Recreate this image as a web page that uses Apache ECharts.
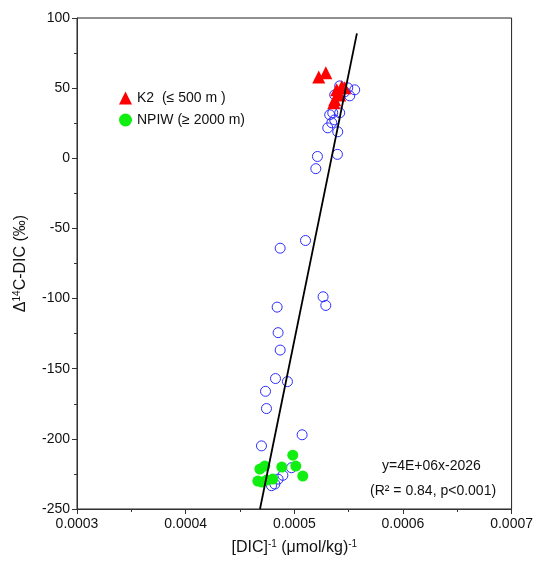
<!DOCTYPE html>
<html>
  <head>
    <meta charset="utf-8" />
    <title>D14C-DIC vs 1/DIC</title>
    <script src="https://cdn.jsdelivr.net/npm/echarts@6/dist/echarts.min.js"></script>
    <style>
      body { margin: 0; background: #fff; }
      #chart { width: 536px; height: 561px; }
    </style>
  </head>
<body>
  <div id="chart"></div>
  <script type="text/javascript">
// blue open circles: all samples  [1/DIC, D14C]
var allSamples = [
  [0.0005418, 51.6], [0.0005492, 50.2], [0.0005556, 48.8], [0.0005510, 44.5],
  [0.0005464, 47.4], [0.0005372, 45.2], [0.0005354, 32.4], [0.0005418, 32.4],
  [0.0005326, 31.0], [0.0005372, 27.4], [0.0005345, 25.3], [0.0005308, 21.7],
  [0.0005400, 18.9], [0.0005397, 2.8], [0.0005213, 1.3], [0.0005198, -7.4],
  [0.0005103, -58.6], [0.0004870, -64.1], [0.0005265, -98.7], [0.0005290, -104.9],
  [0.0004842, -106.1], [0.0004851, -124.3], [0.0004870, -136.7], [0.0004827, -157.0],
  [0.0004937, -159.2], [0.0004735, -166.1], [0.0004744, -178.4], [0.0005072, -197.1],
  [0.0004698, -205.0], [0.0004974, -220.6], [0.0004851, -228.7], [0.0004790, -233.4],
  [0.0004821, -232.2], [0.0004895, -226.0]
];
// K2 upper 500 m
var k2Samples = [
  [0.0005225, 58.0], [0.0005290, 60.9], [0.0005390, 48.8], [0.0005437, 51.0],
  [0.0005372, 41.7], [0.0005363, 39.5], [0.0005418, 45.2], [0.0005464, 50.2]
];
// NPIW deeper than 2000 m
var npiwSamples = [
  [0.0004683, -221.5], [0.0004729, -219.4], [0.0004664, -230.1], [0.0004747, -229.4],
  [0.0004802, -228.7], [0.0004885, -220.1], [0.0004986, -211.6], [0.0005014, -219.4],
  [0.0005078, -226.5], [0.0004701, -230.8]
];
// linear fit drawn across this y range
var fitSlope = 3.8e6;
var fitIntercept = -2030;
var fitYEnds = [-250, 89];
var fitLabels = ['y=4E+06x-2026', '(R\u00b2 = 0.84, p<0.001)'];

var fitLine = fitYEnds.map(function (y) { return [(y - fitIntercept) / fitSlope, y]; });

var chart = echarts.init(document.getElementById('chart'));
var font = 'Liberation Sans, Arial, sans-serif';

var option = {
  animation: false,
  textStyle: { fontFamily: font },
  grid: {
    left: 77, right: 24, top: 18, bottom: 51,
    show: true, borderColor: '#222', borderWidth: 1
  },
  legend: {
    orient: 'vertical',
    left: 114, top: 86,
    itemGap: 8,
    itemWidth: 13, itemHeight: 13,
    textStyle: { fontSize: 14, color: '#111', fontFamily: font },
    data: [
      { name: 'K2  (\u2264 500 m )', icon: 'triangle' },
      { name: 'NPIW (\u2265 2000 m)', icon: 'circle' }
    ]
  },
  xAxis: {
    type: 'value',
    min: 0.0003, max: 0.0007, interval: 0.0001,
    splitLine: { show: false },
    axisLine: { onZero: false, lineStyle: { color: '#333', width: 1 } },
    axisTick: { inside: false, length: 5, lineStyle: { color: '#333' } },
    minorTick: { show: true, splitNumber: 2, length: 3, lineStyle: { color: '#333' } },
    axisLabel: {
      color: '#111', fontSize: 14, margin: 8,
      formatter: function (v) { return v.toFixed(4); }
    },
    name: '{a|[DIC]}{s|-1}{a| (\u03bcmol/kg)}{s|-1}',
    nameLocation: 'middle', nameGap: 30,
    nameTextStyle: {
      rich: {
        a: { fontSize: 16, color: '#111', fontFamily: font },
        s: { fontSize: 10, color: '#111', fontFamily: font, verticalAlign: 'top', padding: [0, 0, 8, 0] }
      }
    }
  },
  yAxis: {
    type: 'value',
    min: -250, max: 100, interval: 50,
    splitLine: { show: false },
    axisLine: { onZero: false, lineStyle: { color: '#333', width: 1 } },
    axisTick: { inside: false, length: 5, lineStyle: { color: '#333' } },
    minorTick: { show: true, splitNumber: 2, length: 3, lineStyle: { color: '#333' } },
    axisLabel: { color: '#111', fontSize: 14, margin: 7 },
    name: '{a|\u0394}{s|14}{a|C-DIC (\u2030)}',
    nameLocation: 'middle', nameGap: 47,
    nameTextStyle: {
      rich: {
        a: { fontSize: 16, color: '#111', fontFamily: font },
        s: { fontSize: 10, color: '#111', fontFamily: font, verticalAlign: 'top', padding: [0, 0, 8, 0] }
      }
    }
  },
  series: [
    {
      name: 'all',
      type: 'scatter',
      symbol: 'circle',
      symbolSize: 10,
      itemStyle: { color: 'rgba(0,0,0,0)', borderColor: '#2b2bff', borderWidth: 1, opacity: 1 },
      data: allSamples,
      z: 2
    },
    {
      name: 'K2  (\u2264 500 m )',
      type: 'scatter',
      symbol: 'triangle',
      symbolSize: 13,
      itemStyle: { color: '#ff0000', opacity: 1 },
      data: k2Samples,
      z: 3
    },
    {
      name: 'NPIW (\u2265 2000 m)',
      type: 'scatter',
      symbol: 'circle',
      symbolSize: 11,
      itemStyle: { color: '#11ee11', opacity: 1 },
      data: npiwSamples,
      z: 3
    },
    {
      name: 'fit',
      type: 'line',
      data: fitLine,
      symbol: 'none',
      lineStyle: { color: '#000', width: 1.8 },
      z: 4
    }
  ],
  graphic: [
    {
      type: 'text', left: 382, top: 459,
      style: { text: fitLabels[0], font: '14px ' + font, fill: '#111' }
    },
    {
      type: 'text', left: 370, top: 484,
      style: { text: fitLabels[1], font: '14px ' + font, fill: '#111' }
    }
  ]
};

chart.setOption(option);
  </script>
</body>
</html>
